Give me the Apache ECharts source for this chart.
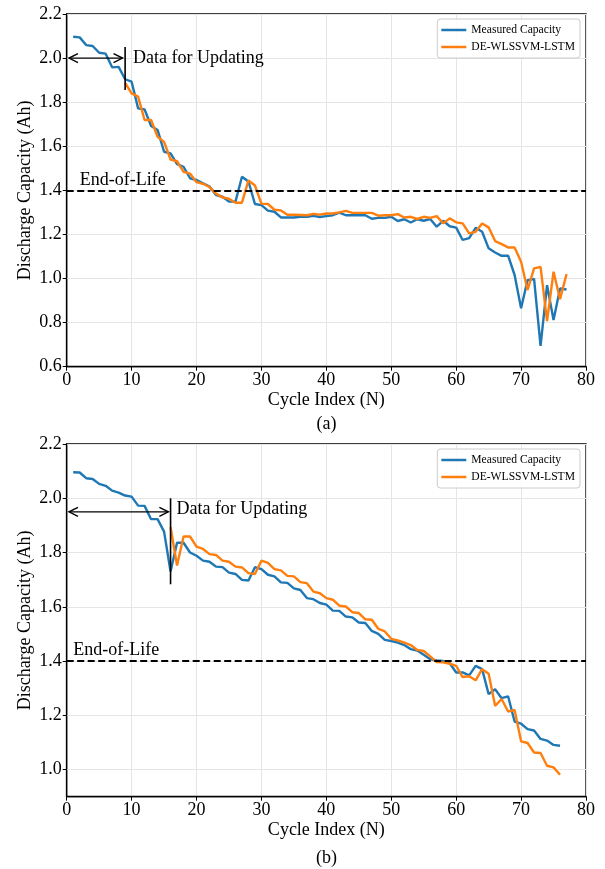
<!DOCTYPE html>
<html>
<head>
<meta charset="utf-8">
<script src="https://cdn.jsdelivr.net/npm/echarts@6/dist/echarts.min.js"></script>
<style>
html,body{margin:0;padding:0;background:#fff;}
#chart{width:605px;height:869px;}
</style>
</head>
<body>
<div id="chart"></div>
<script>
// ---------- DATA ----------
const topMeasuredStart = 1;
const topMeasured = [2.097,2.094,2.059,2.055,2.024,2.020,1.958,1.960,1.904,1.893,
  1.772,1.767,1.692,1.674,1.575,1.568,1.519,1.507,1.455,1.447,
  1.432,1.417,1.379,1.371,1.349,1.349,1.462,1.440,1.338,1.333,
  1.308,1.303,1.277,1.277,1.277,1.280,1.280,1.284,1.279,1.283,
  1.287,1.299,1.287,1.287,1.287,1.287,1.271,1.275,1.275,1.280,
  1.261,1.269,1.254,1.269,1.262,1.270,1.235,1.262,1.237,1.231,
  1.175,1.183,1.230,1.212,1.137,1.118,1.103,1.104,1.016,0.865,
  0.993,0.998,0.694,0.970,0.812,0.955,0.950];
const topPredStart = 9;
const topPred = [1.888,1.840,1.825,1.719,1.719,1.643,1.620,1.540,1.532,1.484,
  1.476,1.437,1.430,1.415,1.385,1.368,1.362,1.344,1.344,1.445,
  1.422,1.340,1.338,1.312,1.309,1.289,1.289,1.288,1.287,1.293,
  1.290,1.295,1.295,1.300,1.307,1.298,1.298,1.298,1.298,1.285,
  1.287,1.287,1.292,1.277,1.280,1.270,1.280,1.275,1.283,1.250,
  1.273,1.255,1.250,1.205,1.212,1.250,1.232,1.170,1.156,1.141,
  1.141,1.076,0.948,1.046,1.053,0.807,1.031,0.906,1.020];
const botMeasuredStart = 1;
const botMeasured = [2.096,2.095,2.074,2.071,2.053,2.046,2.028,2.021,2.010,2.006,
  1.973,1.972,1.923,1.923,1.877,1.730,1.836,1.836,1.800,1.788,
  1.770,1.766,1.748,1.746,1.726,1.721,1.699,1.697,1.746,1.739,
  1.718,1.712,1.690,1.688,1.668,1.662,1.632,1.628,1.614,1.608,
  1.586,1.585,1.564,1.561,1.542,1.540,1.511,1.500,1.478,1.474,
  1.468,1.459,1.444,1.439,1.423,1.407,1.402,1.400,1.392,1.358,
  1.358,1.347,1.382,1.370,1.278,1.296,1.263,1.270,1.177,1.169,
  1.149,1.144,1.113,1.107,1.091,1.088];
const botPredStart = 16;
const botPred = [1.893,1.752,1.859,1.859,
  1.822,1.813,1.794,1.791,1.770,1.766,1.748,1.745,1.724,1.721,
  1.770,1.762,1.739,1.734,1.714,1.712,1.691,1.687,1.656,1.650,
  1.632,1.626,1.604,1.601,1.580,1.577,1.554,1.552,1.519,1.509,
  1.482,1.476,1.468,1.459,1.441,1.437,1.417,1.396,1.395,1.390,
  1.382,1.341,1.344,1.329,1.370,1.353,1.235,1.260,1.214,1.220,
  1.104,1.098,1.063,1.061,1.014,1.008,0.981];

const seriesNames = ['Measured Capacity','DE-WLSSVM-LSTM'];
const eolValue = 1.4;
const eolText = 'End-of-Life';
const updText = 'Data for Updating';
// annotation anchors in data space: [xStart, xEnd, y] arrow, [x, y1, y2] bar, text anchor
const topArrow = [0.35, 8.6, 2.0];
const topBar = [9, 2.05, 1.855];
const topUpdAnchor = [10.2, 2.0];
const topEolAnchor = [2.0, 1.447];
const botArrow = [0.35, 15.66, 1.95];
const botBar = [16, 2.0, 1.683];
const botUpdAnchor = [16.9, 1.96];
const botEolAnchor = [1.0, 1.439];
const panelLabels = ['(a)','(b)'];

// ---------- HELPERS ----------
const toPts = (arr, start) => arr.map((v, i) => [start + i, v]);
const FONT = "'Liberation Serif','Times New Roman',serif";
const BLUE = '#1f77b4', ORANGE = '#ff7f0e';

function xAxisCfg(gi){
  return {
    type:'value', gridIndex:gi, min:0, max:80, interval:10,
    name:'Cycle Index (N)', nameLocation:'middle', nameGap:25, nameMoveOverlap:false,
    nameTextStyle:{fontFamily:FONT, fontSize:18, color:'#000'},
    axisLine:{show:true, onZero:false, lineStyle:{color:'#000', width:1.3}},
    axisTick:{show:true, inside:false, length:4, lineStyle:{color:'#000', width:1}},
    axisLabel:{fontFamily:FONT, fontSize:18, color:'#000', margin:5},
    splitLine:{show:true, lineStyle:{color:'#e5e5e5', width:1}}
  };
}
function yAxisCfg(gi, mn, mx, opts){
  return Object.assign({
    type:'value', gridIndex:gi, min:mn, max:mx,
    name:'Discharge Capacity (Ah)', nameLocation:'middle', nameGap:32, nameMoveOverlap:false,
    nameTextStyle:{fontFamily:FONT, fontSize:18, color:'#000'},
    axisLine:{show:true, onZero:false, lineStyle:{color:'#000', width:1.3}},
    axisTick:{show:true, inside:false, length:4, lineStyle:{color:'#000', width:1}},
    axisLabel:{fontFamily:FONT, fontSize:18, color:'#000', margin:5,
      formatter: v => v.toFixed(1)},
    splitLine:{show:true, lineStyle:{color:'#e5e5e5', width:1}}
  }, opts);
}
function lineSeries(name, pts, color, gi, withEol){
  const s = {
    type:'line', name:name, xAxisIndex:gi, yAxisIndex:gi, data:pts,
    showSymbol:false, symbol:'none', smooth:false,
    lineStyle:{color:color, width:2.4}, itemStyle:{color:color},
    z:3, animation:false
  };
  if (withEol){
    s.markLine = {
      silent:true, symbol:['none','none'], label:{show:false},
      lineStyle:{color:'#000', width:2, type:[7,3.5]},
      data:[{yAxis:eolValue}], animation:false
    };
  }
  return s;
}
function annoSeries(gi, arrow, bar, updAnchor, eolAnchor){
  const items = [
    {value:[arrow[0], arrow[2], arrow[1], arrow[2]], kind:'arrow'},
    {value:[bar[0], bar[1], bar[0], bar[2]], kind:'bar'},
    {value:[updAnchor[0], updAnchor[1], updAnchor[0], updAnchor[1]], kind:'text', text:updText},
    {value:[eolAnchor[0], eolAnchor[1], eolAnchor[0], eolAnchor[1]], kind:'text', text:eolText}
  ];
  return {
    type:'custom', xAxisIndex:gi, yAxisIndex:gi, silent:true, z:5, animation:false,
    encode:{x:[0,2], y:[1,3]},
    data: items.map(it => it.value),
    renderItem: function(params, api){
      const it = items[params.dataIndex];
      const p1 = api.coord([api.value(0), api.value(1)]);
      const p2 = api.coord([api.value(2), api.value(3)]);
      const ls = {stroke:'#000', lineWidth:1.4, fill:null};
      if (it.kind === 'arrow'){
        const L = 9, W = 4.5;
        return {type:'group', children:[
          {type:'line', shape:{x1:p1[0], y1:p1[1], x2:p2[0], y2:p2[1]}, style:ls},
          {type:'polyline', shape:{points:[[p1[0]+L,p1[1]-W],[p1[0],p1[1]],[p1[0]+L,p1[1]+W]]}, style:ls},
          {type:'polyline', shape:{points:[[p2[0]-L,p2[1]-W],[p2[0],p2[1]],[p2[0]-L,p2[1]+W]]}, style:ls}
        ]};
      }
      if (it.kind === 'bar'){
        return {type:'line', shape:{x1:p1[0], y1:p1[1], x2:p2[0], y2:p2[1]}, style:{stroke:'#000', lineWidth:1.6}};
      }
      return {type:'text', x:p1[0], y:p1[1], style:{text:it.text, fill:'#000',
        font:'18px ' + FONT, align:'left', verticalAlign:'middle'}};
    }
  };
}
function legendCfg(top, names){
  return {
    orient:'vertical', right:25, top:top, data:names,
    icon:'rect', itemWidth:25, itemHeight:2.5, itemGap:5, itemTextGap:9,
    padding:[5,5,5,4], borderColor:'#cccccc', borderWidth:1, borderRadius:3,
    backgroundColor:'rgba(255,255,255,0.85)',
    textStyle:{fontFamily:FONT, fontSize:11.6, color:'#000'},
    selectedMode:false
  };
}

const chart = echarts.init(document.getElementById('chart'), null, {renderer:'canvas'});
chart.setOption({
  animation:false,
  backgroundColor:'#fff',
  grid:[
    {left:66.7, right:19, top:14, height:352.7, show:true, borderColor:'#000', borderWidth:1.3, backgroundColor:'transparent'},
    {left:66.7, right:19, top:444, height:352.7, show:true, borderColor:'#000', borderWidth:1.3, backgroundColor:'transparent'}
  ],
  xAxis:[xAxisCfg(0), xAxisCfg(1)],
  yAxis:[
    yAxisCfg(0, 0.6, 2.2, {interval:0.2}),
    yAxisCfg(1, 0.9, 2.2, {splitNumber:6, axisLabel:{fontFamily:FONT, fontSize:18, color:'#000', margin:5, showMinLabel:false,
      formatter: v => v.toFixed(1)}})
  ],
  legend:[legendCfg(19, seriesNames), legendCfg(449, seriesNames)],
  graphic:[
    {type:'text', x:326.5, y:424, style:{text:panelLabels[0], font:'18px ' + FONT, fill:'#000',
      align:'center', verticalAlign:'middle', textAlign:'center', textVerticalAlign:'middle'}},
    {type:'text', x:326.5, y:858, style:{text:panelLabels[1], font:'18px ' + FONT, fill:'#000',
      align:'center', verticalAlign:'middle', textAlign:'center', textVerticalAlign:'middle'}}
  ],
  series:[
    lineSeries(seriesNames[0], toPts(topMeasured, topMeasuredStart), BLUE, 0, true),
    lineSeries(seriesNames[1], toPts(topPred, topPredStart), ORANGE, 0, false),
    lineSeries(seriesNames[0], toPts(botMeasured, botMeasuredStart), BLUE, 1, true),
    lineSeries(seriesNames[1], toPts(botPred, botPredStart), ORANGE, 1, false),
    annoSeries(0, topArrow, topBar, topUpdAnchor, topEolAnchor),
    annoSeries(1, botArrow, botBar, botUpdAnchor, botEolAnchor)
  ]
});
</script>
</body>
</html>
